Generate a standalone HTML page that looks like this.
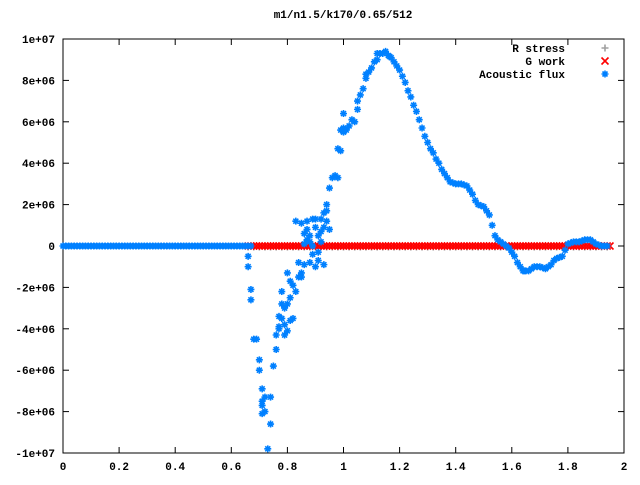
<!DOCTYPE html>
<html><head><meta charset="utf-8"><style>
html,body{margin:0;padding:0;background:#fff}
svg text{font-family:"Liberation Mono",monospace;font-size:11px;font-weight:bold;fill:#000}
</style></head><body>
<svg id="chart" width="640" height="480" xmlns="http://www.w3.org/2000/svg">
<text x="343" y="18" text-anchor="middle">m1/n1.5/k170/0.65/512</text>
<rect x="63" y="39" width="561" height="414" fill="none" stroke="#000" stroke-width="1"/>
<g id="axes"></g>
<g id="marks"></g>
<g id="legend"></g>
</svg>
<script>
const xTicks=[0,0.2,0.4,0.6,0.8,1,1.2,1.4,1.6,1.8,2];
const xTickLabels=["0","0.2","0.4","0.6","0.8","1","1.2","1.4","1.6","1.8","2"];
const yTicks=[10,8,6,4,2,0,-2,-4,-6,-8,-10];
const yTickLabels=["1e+07","8e+06","6e+06","4e+06","2e+06","0","-2e+06","-4e+06","-6e+06","-8e+06","-1e+07"];
const flatX=[0,0.02,0.04,0.06,0.08,0.1,0.12,0.14,0.16,0.18,0.2,0.22,0.24,0.26,0.28,0.3,0.32,0.34,0.36,0.38,0.4,0.42,0.44,0.46,0.48,0.5,0.52,0.54,0.56,0.58,0.6,0.62,0.64,0.66];
const fluxX=[0.66,0.66,0.67,0.67,0.68,0.69,0.7,0.7,0.71,0.71,0.71,0.71,0.72,0.72,0.73,0.74,0.74,0.75,0.76,0.76,0.77,0.77,0.77,0.78,0.78,0.78,0.79,0.79,0.79,0.8,0.8,0.8,0.81,0.81,0.81,0.82,0.82,0.83,0.83,0.84,0.84,0.85,0.85,0.85,0.86,0.86,0.86,0.87,0.87,0.87,0.88,0.88,0.88,0.89,0.89,0.89,0.9,0.9,0.9,0.91,0.91,0.91,0.92,0.92,0.92,0.93,0.93,0.93,0.94,0.94,0.94,0.95,0.95,0.96,0.97,0.98,0.98,0.99,0.99,1,1,1,1.01,1.02,1.03,1.04,1.05,1.05,1.06,1.07,1.08,1.08,1.09,1.1,1.11,1.12,1.12,1.13,1.14,1.15,1.16,1.165,1.17,1.18,1.19,1.2,1.21,1.22,1.23,1.24,1.25,1.26,1.27,1.28,1.29,1.3,1.31,1.32,1.33,1.34,1.35,1.36,1.37,1.38,1.39,1.4,1.41,1.42,1.43,1.44,1.45,1.46,1.47,1.48,1.49,1.5,1.51,1.52,1.53,1.54,1.55,1.56,1.57,1.58,1.59,1.6,1.61,1.62,1.63,1.64,1.645,1.65,1.66,1.67,1.68,1.69,1.7,1.71,1.72,1.73,1.74,1.75,1.76,1.77,1.78,1.79,1.8,1.81,1.82,1.83,1.84,1.85,1.86,1.87,1.88,1.89,1.9,1.91,1.92,1.93,1.94];
const fluxY=[-0.5,-1,-2.1,-2.6,-4.5,-4.5,-5.5,-6,-6.9,-7.5,-7.7,-8.1,-7.3,-8,-9.8,-7.3,-8.6,-5.8,-4.3,-5,-3.4,-3.9,-4,-2.2,-2.8,-3.5,-3,-3.8,-4.3,-1.3,-2.8,-4.1,-1.7,-2.5,-3.6,-1.9,-3.5,1.2,-2.2,-0.8,-1.5,-1.5,-1.3,1.1,-0.9,0.6,0.1,0.3,1.2,0.8,-0.8,0.2,0.5,1.3,0,-0.4,-1,0.9,1.3,0.5,-0.3,-0.7,1.3,0.7,0.2,-0.9,1.6,0.9,1.7,2,1.2,2.8,0.8,3.3,3.4,3.3,4.7,4.6,5.6,5.5,6.4,5.7,5.6,5.8,6.1,6.0,6.6,7.0,7.3,7.6,8.1,8.3,8.4,8.6,8.9,9.0,9.3,9.3,9.3,9.4,9.2,9.15,9.1,8.9,8.7,8.5,8.2,7.9,7.5,7.2,6.8,6.5,6.1,5.7,5.3,5.0,4.7,4.5,4.2,4.0,3.7,3.5,3.3,3.1,3.05,3.0,3.0,3.0,2.95,2.9,2.7,2.5,2.2,2.0,1.95,1.9,1.7,1.5,1.0,0.5,0.3,0.2,0.1,0.0,-0.1,-0.3,-0.5,-0.8,-1.0,-1.2,-1.2,-1.2,-1.2,-1.1,-1.0,-1.0,-1.0,-1.05,-1.1,-1.0,-0.9,-0.7,-0.6,-0.55,-0.5,-0.2,0.1,0.15,0.2,0.2,0.2,0.25,0.3,0.3,0.3,0.2,0.1,0.05,0,0,0];
const workX=[0.66,0.68,0.7,0.72,0.74,0.76,0.78,0.8,0.82,0.84,0.86,0.88,0.9,0.92,0.94,0.96,0.98,1,1.02,1.04,1.06,1.08,1.1,1.12,1.14,1.16,1.18,1.2,1.22,1.24,1.26,1.28,1.3,1.32,1.34,1.36,1.38,1.4,1.42,1.44,1.46,1.48,1.5,1.52,1.54,1.56,1.58,1.6,1.62,1.64,1.66,1.68,1.7,1.72,1.74,1.76,1.78,1.8,1.82,1.84,1.86,1.88,1.9,1.92,1.94];
const NS="http://www.w3.org/2000/svg";
const X=v=>63+v*280.5, Y=v=>246-v*20.7;
function mk(tag,attrs,parent){const e=document.createElementNS(NS,tag);for(const k in attrs)e.setAttribute(k,attrs[k]);parent.appendChild(e);return e;}
const axes=document.getElementById('axes'),marks=document.getElementById('marks'),legend=document.getElementById('legend');
xTicks.forEach((t,i)=>{const x=X(t);
 const a=mk('line',{x1:x,x2:x,y1:453,y2:447,stroke:'#000'},axes);
 const b=mk('line',{x1:x,x2:x,y1:39,y2:45,stroke:'#000'},axes);
 const l=mk('text',{x:x,y:470,'text-anchor':'middle'},axes);l.textContent=xTickLabels[i];});
yTicks.forEach((t,i)=>{const y=Y(t);
 const a=mk('line',{x1:63,x2:69,y1:y,y2:y,stroke:'#000'},axes);
 const b=mk('line',{x1:624,x2:618,y1:y,y2:y,stroke:'#000'},axes);
 const l=mk('text',{x:55,y:y+4,'text-anchor':'end'},axes);l.textContent=yTickLabels[i];});
const SW=1.6;
function star(x,y,c,p){return mk('path',{d:`M${x-3.5},${y}h7M${x},${y-3.5}v7M${x-2.5},${y-2.5}l5,5M${x-2.5},${y+2.5}l5,-5`,stroke:c,'stroke-width':SW,fill:'none'},p);}
function cross(x,y,c,p){return mk('path',{d:`M${x-3.5},${y-3.5}l7,7M${x-3.5},${y+3.5}l7,-7`,stroke:c,'stroke-width':SW,fill:'none'},p);}
function plus(x,y,c,p){return mk('path',{d:`M${x-3.5},${y}h7M${x},${y-3.5}v7`,stroke:c,'stroke-width':SW,fill:'none'},p);}
workX.forEach(v=>{const e=plus(X(v),Y(0)+1,'#a0a0a0',marks);});
workX.forEach(v=>{const e=cross(X(v),Y(0),'#ff0000',marks);
 const f=cross(X(v+0.01),Y(0),'#ff0000',marks);});
flatX.forEach(v=>{const e=star(X(v),Y(0),'#0080ff',marks);
 const f=star(X(v)+2.8,Y(0),'#0080ff',marks);});
fluxX.forEach((v,i)=>{const e=star(X(v),Y(fluxY[i]),'#0080ff',marks);});
const legNames=["R stress","G work","Acoustic flux"],legColors=["#a0a0a0","#ff0000","#0080ff"],legFns=[plus,cross,star];
legNames.forEach((n,i)=>{const y=48+i*13;
 const t=mk('text',{x:565,y:y+4,'text-anchor':'end'},legend);t.textContent=n;
 const s=legFns[i](605,y,legColors[i],legend);});
</script>
</body></html>
